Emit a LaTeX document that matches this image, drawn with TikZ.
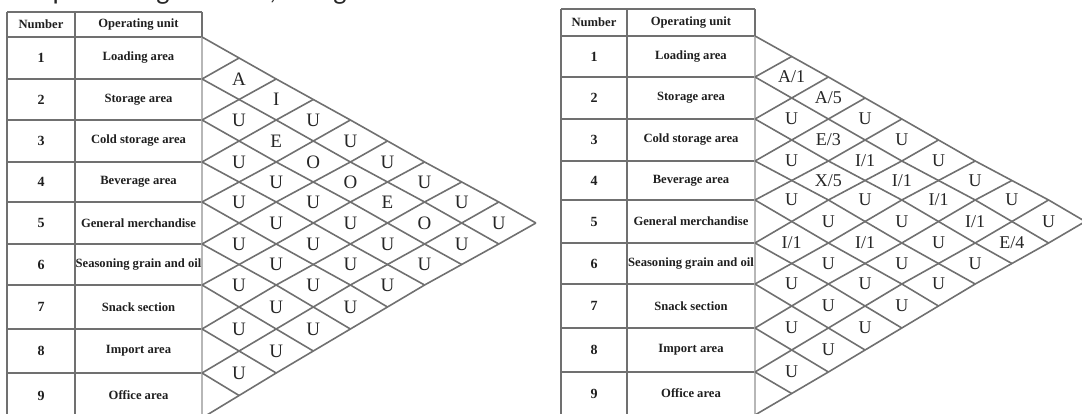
\documentclass[tikz,border=0pt]{standalone}
\usepackage{fontspec}
\setmainfont{Liberation Serif}
\newfontfamily\capfont{Carlito}
\usetikzlibrary{calc}
\definecolor{linegray}{RGB}{112,112,112}
\newcommand\relchart[9]{%
  % #1 prefix, #2 x left, #3 x divider, #4 x right, #5 y top, #6 dx, #7 half-row y list, #8 pair labels, #9 label style
  \foreach \hy [count=\j from 0] in {#7} {
    \foreach \k in {0,...,9} { \coordinate (#1-\k-\j) at ({#4+\k*#6},\hy); }
  }
  \coordinate (#1-xl) at (#2,#5);
  \coordinate (#1-xd) at (#3,#5);
  \coordinate (#1-xr) at (#4,#5);
  \coordinate (#1-xn) at ({(#2+#3)/2},#5);
  \coordinate (#1-xu) at ({(#3+#4)/2},#5);
  % table
  \draw[tblline] (#1-xl) -- (#1-xr);
  \foreach \i in {0,...,9} {
    \pgfmathtruncatemacro\jj{2*\i}
    \draw[tblline] (#1-xl |- #1-0-\jj) -- (#1-0-\jj);
  }
  \draw[tblline] (#1-xl) -- (#1-xl |- #1-0-18);
  \draw[tblline] (#1-xd) -- (#1-xd |- #1-0-18);
  \draw[tblline] (#1-xr) -- (#1-0-0);
  \draw[tblline,draw=linegray!50] (#1-0-0) -- (#1-0-18);
  \node[tbltext] (#1-hn) at ($(#1-xn)!0.5!(#1-xn |- #1-0-0)$) {Number};
  \node[tbltext] (#1-hu) at ($(#1-xu)!0.5!(#1-xu |- #1-0-0)$) {Operating unit};
  \foreach \u [count=\r] in {Loading area,Storage area,Cold storage area,Beverage area,General merchandise,Seasoning grain and oil,Snack section,Import area,Office area} {
    \pgfmathtruncatemacro\jj{2*\r-1}
    \node[numtext] (#1-n\r) at (#1-xn |- #1-0-\jj) {\r};
    \node[tbltext] (#1-u\r) at (#1-xu |- #1-0-\jj) {\u};
  }
  % grid
  \foreach \i in {0,...,8} {
    \pgfmathtruncatemacro\s{2*\i}
    \pgfmathtruncatemacro\n{9-\i}
    \draw[gridline] (#1-0-\s) \foreach \k [evaluate=\k as \jj using int(2*\i+\k)] in {1,...,\n} { -- (#1-\k-\jj) };
  }
  \foreach \i in {1,...,9} {
    \pgfmathtruncatemacro\s{2*\i}
    \draw[gridline] (#1-0-\s) \foreach \k [evaluate=\k as \jj using int(2*\i-\k)] in {1,...,\i} { -- (#1-\k-\jj) };
  }
  % relationship labels
  \foreach \a/\b/\t in {#8} {
    \pgfmathtruncatemacro\kk{\b-\a}
    \pgfmathtruncatemacro\jj{\a+\b-1}
    \node[#9] (#1-r\a\b) at (#1-\kk-\jj) {\t};
  }
}
\begin{document}
\begin{tikzpicture}[x=1pt,y=-1pt,
  gridline/.style={draw=linegray,line width=1.6pt,line join=round},
  tblline/.style={draw=linegray,line width=1.5pt},
  tbltext/.style={font=\bfseries\fontsize{12.6}{14}\selectfont,inner sep=0pt,text=black!88},
  numtext/.style={font=\bfseries\fontsize{14}{16}\selectfont,inner sep=0pt,text=black!88},
  relL/.style={font=\fontsize{19}{21}\selectfont,inner sep=0pt,text=black!85},
  relR/.style={font=\fontsize{18}{20}\selectfont,inner sep=0pt,text=black!85},
  frag/.style={font=\capfont\fontsize{28}{30}\selectfont,inner sep=0pt,anchor=base,text=black!85}]
\useasboundingbox (0,0) rectangle (1082,414);
\clip (0,0) rectangle (1082,414);
% fragments of a caption line cut off at the top edge
\node[frag] (f1) at (60,0) {p};
\node[frag] (f2) at (163,0) {g};
\node[frag] (f3) at (273,0) {,};
\node[frag] (f4) at (340,0) {g};
% left chart
\relchart{L}{7}{75}{202}{12}{37.1}
  {37,58,79,99.5,120,141,162,182,202,223,244,264.5,285,307,329,351,373,395.5,418}
  {1/2/A,1/3/I,1/4/U,1/5/U,1/6/U,1/7/U,1/8/U,1/9/U,
   2/3/U,2/4/E,2/5/O,2/6/O,2/7/E,2/8/O,2/9/U,
   3/4/U,3/5/U,3/6/U,3/7/U,3/8/U,3/9/U,
   4/5/U,4/6/U,4/7/U,4/8/U,4/9/U,
   5/6/U,5/7/U,5/8/U,5/9/U,
   6/7/U,6/8/U,6/9/U,
   7/8/U,7/9/U,
   8/9/U}{relL}
% right chart
\relchart{R}{561}{627}{755}{9}{36.7}
  {36,56.5,77,98,119,140,161,180.5,200,221.5,243,263.5,284,306,328,350,372,393.5,415}
  {1/2/{A/1},1/3/{A/5},1/4/U,1/5/U,1/6/U,1/7/U,1/8/U,1/9/U,
   2/3/U,2/4/{E/3},2/5/{I/1},2/6/{I/1},2/7/{I/1},2/8/{I/1},2/9/{E/4},
   3/4/U,3/5/{X/5},3/6/U,3/7/U,3/8/U,3/9/U,
   4/5/U,4/6/U,4/7/{I/1},4/8/U,4/9/U,
   5/6/{I/1},5/7/U,5/8/U,5/9/U,
   6/7/U,6/8/U,6/9/U,
   7/8/U,7/9/U,
   8/9/U}{relR}
\end{tikzpicture}
\end{document}
